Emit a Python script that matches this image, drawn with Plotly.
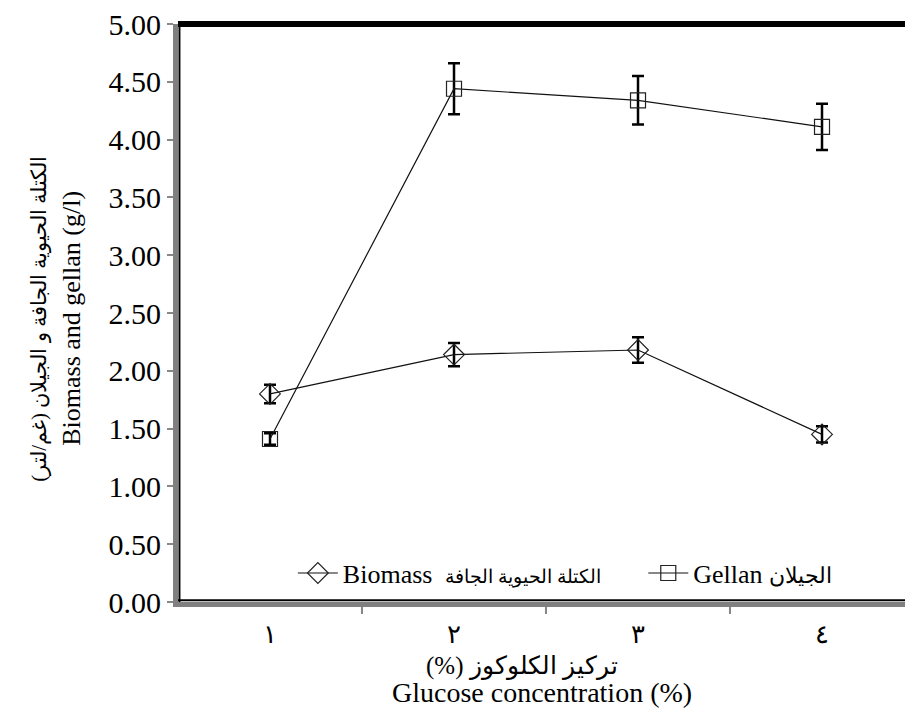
import plotly.graph_objects as go

# ---- data ----
categories = [1, 2, 3, 4]
category_labels = ["١", "٢", "٣", "٤"]
biomass = [1.80, 2.14, 2.18, 1.45]
biomass_err = [0.08, 0.10, 0.11, 0.07]
gellan = [1.41, 4.44, 4.34, 4.11]
gellan_err = [0.05, 0.22, 0.21, 0.20]
y_ticks = [0, 0.5, 1.0, 1.5, 2.0, 2.5, 3.0, 3.5, 4.0, 4.5, 5.0]

FONT = "Liberation Serif"
FS = 26

fig = go.Figure()
fig.add_trace(go.Scatter(
    x=categories, y=biomass, mode="lines+markers",
    name="Biomass  <span style='font-size:19px'>الكتلة الحيوية الجافة</span>",
    legend="legend",
    line=dict(color="#111", width=1.2),
    marker=dict(symbol="diamond-open", size=16, color="#222", line=dict(width=1.2)),
    error_y=dict(type="data", array=biomass_err, color="black", thickness=2.5, width=6),
))
fig.add_trace(go.Scatter(
    x=categories, y=gellan, mode="lines+markers",
    name="Gellan <span style='font-size:22px'>الجيلان</span>",
    legend="legend2",
    line=dict(color="#111", width=1.2),
    marker=dict(symbol="square-open", size=15, color="#222", line=dict(width=1.2)),
    error_y=dict(type="data", array=gellan_err, color="black", thickness=2.5, width=6),
))

legend_common = dict(orientation="h", y=0.05, xanchor="left", yanchor="middle",
                     bgcolor="rgba(0,0,0,0)", font=dict(size=FS, family=FONT),
                     itemwidth=40)

fig.update_layout(
    width=905, height=713,
    margin=dict(l=178, r=0, t=24, b=111),
    paper_bgcolor="white", plot_bgcolor="white",
    font=dict(family=FONT, size=FS, color="black"),
    showlegend=True,
    legend=dict(x=0.158, **legend_common),
    legend2=dict(x=0.640, **legend_common),
    xaxis=dict(
        range=[0.5, 4.451], tickvals=categories, ticktext=category_labels,
        ticks="", showgrid=False, zeroline=False,
        showline=True, linecolor="#808080", linewidth=5,
        ticklabelstandoff=5,
        minor=dict(tickvals=[1.5, 2.5, 3.5], ticks="outside", ticklen=7,
                   tickcolor="#888", tickwidth=1.5, showgrid=False),
        tickfont=dict(size=26, family=FONT),
    ),
    yaxis=dict(
        range=[0, 5.0], tickvals=y_ticks, tickformat=".2f",
        ticks="outside", ticklen=6, tickcolor="#888", tickwidth=1.5,
        showgrid=False, zeroline=False,
        showline=True, linecolor="#808080", linewidth=5,
        tickfont=dict(size=30, family=FONT),
    ),
    shapes=[
        dict(type="line", xref="paper", yref="paper", x0=0, x1=1, y0=1, y1=1,
             line=dict(color="black", width=6)),
        dict(type="line", xref="paper", yref="paper", x0=0.002, x1=0.002, y0=0, y1=1,
             line=dict(color="black", width=2)),
        dict(type="line", xref="paper", yref="paper", x0=0, x1=1, y0=0.003, y1=0.003,
             line=dict(color="black", width=2)),
    ],
    annotations=[
        dict(xref="paper", yref="paper", x=0, y=0.49, xshift=-138,
             xanchor="center", yanchor="middle", textangle=-90, showarrow=False,
             text="الكتلة الحيوية الجافة و الجيلان (غم/لتر)\u200f",
             font=dict(size=21, family=FONT)),
        dict(xref="paper", yref="paper", x=0, y=0.49, xshift=-106,
             xanchor="center", yanchor="middle", textangle=-90, showarrow=False,
             text="Biomass and gellan (g/l)",
             font=dict(size=FS, family=FONT)),
        dict(xref="paper", yref="paper", x=0.5, y=0, yshift=-64, xshift=-20,
             xanchor="center", yanchor="middle", showarrow=False,
             text="تركيز الكلوكوز (%)\u200f",
             font=dict(size=25, family=FONT)),
        dict(xref="paper", yref="paper", x=0.5, y=0, yshift=-90,
             xanchor="center", yanchor="middle", showarrow=False,
             text="Glucose concentration (%)",
             font=dict(size=28, family=FONT)),
    ],
)

fig.write_html(
    "out.html",
    config={"displayModeBar": False},
    post_script="document.body.style.margin='0px';document.body.style.overflow='hidden';",
)
